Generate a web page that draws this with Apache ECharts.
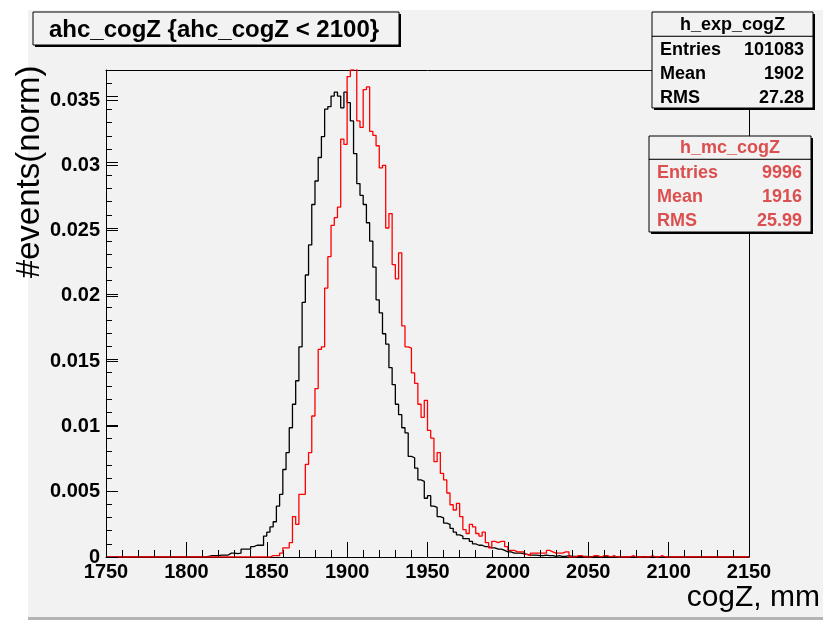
<!DOCTYPE html>
<html>
<head>
<meta charset="utf-8">
<script src="https://cdn.jsdelivr.net/npm/echarts@6/dist/echarts.min.js"></script>
<style>
html,body{margin:0;padding:0;background:#ffffff;}
#wrap{position:relative;width:823px;height:620px;overflow:hidden;}
#panel{position:absolute;left:28px;top:10px;width:795px;height:607px;background:#f2f2f2;border-bottom:3px solid #b4b4b4;}
#chart{position:absolute;left:0;top:0;width:823px;height:620px;}
#ticks{position:absolute;left:0;top:0;width:823px;height:620px;pointer-events:none;}
</style>
</head>
<body>
<div id="wrap"><div id="panel"></div><div id="chart"></div><div id="ticks"></div></div>
<script>
// ---- data ----
const binWidth = 2;           // mm
const axisMin = 1750;
const axisMax = 2150;
const yMax = 0.0373;
const xTickLabels = ['1750','1800','1850','1900','1950','2000','2050','2100','2150'];
const yTickLabels = ['0','0.005','0.01','0.015','0.02','0.025','0.03','0.035'];

// h_exp_cogZ (black), bins of 2 mm starting at 1812 mm
const expStart = 1812;
const expValues = [
  0.00005,0.0001,0.0001,0.0001,0.00015,0.00015,0.00015,0.0003,0.0003,0.00025,
  0.0003,0.0006,0.0006,0.0006,0.0008,0.0009,0.0009,0.0009,0.0016,0.0019,
  0.0023,0.0027,0.0039,0.0048,0.0067,0.0080,0.0099,0.0117,0.0135,0.0161,
  0.0195,0.0216,0.0239,0.0270,0.0288,0.0306,0.0322,0.0343,0.0345,0.0353,
  0.0356,0.0353,0.0344,0.0356,0.0348,0.0334,0.0309,0.0286,0.0277,0.0270,
  0.0256,0.0242,0.0222,0.0197,0.0187,0.0171,0.0163,0.0145,0.0132,0.0117,
  0.0109,0.0099,0.0095,0.0077,0.0076,0.0068,0.0059,0.0058,0.0045,0.0047,
  0.0039,0.0038,0.0031,0.0030,0.0026,0.0025,0.0022,0.0019,0.0017,0.0016,
  0.0014,0.0014,0.0012,0.0010,0.0009,0.0009,0.0008,0.0008,0.0007,0.0007,
  0.0006,0.0006,0.0005,0.0004,0.0004,0.0003,0.0003,0.0003,0.00025,0.0002,
  0.00015,0.00015,0.00015,0.0001,0.0001,0.00015,0.0001,0.0001,0.00005,0.0001,
  0.00005,0.00005,0.0001,0.00005,0.00005,0.00003,0.00003,0.00005,0.00002,0.00003,
  0.00002,0,0.00002,0,0.00002,0,0,0.00002,0,0,
  0,0,0,0.00002,0,0.00002,0.00002,0,0,0
];

// h_mc_cogZ (red), bins of 2 mm starting at 1852 mm
const mcStart = 1852;
const mcValues = [
  0.0001,0.0001,0.0001,0.0003,0.0007,0.0007,0.0011,0.0031,0.0025,0.0048,
  0.0048,0.0071,0.0080,0.0108,0.0129,0.0159,0.0161,0.0206,0.0230,0.0254,
  0.0260,0.0268,0.0320,0.0316,0.0368,0.0373,0.0380,0.0334,0.0329,0.0358,
  0.0360,0.0326,0.0323,0.0315,0.0298,0.0300,0.0252,0.0263,0.0224,0.0213,
  0.0233,0.0177,0.0161,0.0160,0.0141,0.0133,0.0117,0.0107,0.0120,0.0097,
  0.0091,0.0073,0.0080,0.0064,0.0059,0.0049,0.0040,0.0036,0.0041,0.0031,
  0.0021,0.0018,0.0025,0.0023,0.0018,0.0016,0.0019,0.0011,0.0007,0.0012,
  0.0011,0.0012,0.0012,0.0008,0.0005,0.0005,0.0004,0.0004,0.0004,0.0002,
  0.0001,0.0003,0.0003,0.0003,0.0003,0.0003,0.0005,0.0004,0.0003,0.0003,
  0.0003,0.0004,0.0004,0,0,0.0001,0.0001,0,0,0,
  0.0001,0.0001,0,0.0001,0.0001,0,0.0001,0,0,0,
  0,0,0.0001,0,0,0,0,0,0.0001,0,
  0,0.0001,0
];

const expStats = {name:'h_exp_cogZ', rows:[['Entries','101083'],['Mean','1902'],['RMS','27.28']]};
const mcStats  = {name:'h_mc_cogZ',  rows:[['Entries','9996'],['Mean','1916'],['RMS','25.99']]};
const titleText = 'ahc_cogZ {ahc_cogZ < 2100}';
const xTitle = 'cogZ, mm';
const yTitle = '#events(norm)';

// build full histograms over the axis range (empty bins are zero)
function buildHist(start, vals){
  const n = Math.round((axisMax - axisMin) / binWidth);
  const pts = [];
  for (let i = 0; i < n; i++){
    const x = axisMin + i * binWidth;
    const k = Math.round((x - start) / binWidth);
    const v = (k >= 0 && k < vals.length) ? vals[k] : 0;
    pts.push([x, v]);
  }
  pts.push([axisMax, pts[pts.length-1][1]]);
  return pts;
}

const FONT = 'Liberation Sans, Arial, Helvetica, sans-serif';
const mcColor = '#dc4f4f';
const GRID = {left:106, top:70, width:643, height:487};

function statsBox(x, y, w, h, headH, st, color){
  const els = [];
  els.push({type:'rect', shape:{x:x+2, y:y+2, width:w, height:h}, style:{fill:'#000'}, z:10});
  els.push({type:'rect', shape:{x:x, y:y, width:w, height:h}, style:{fill:'#f2f2f2', stroke:'#000', lineWidth:1}, z:11});
  els.push({type:'rect', shape:{x:x, y:y+headH, width:w, height:0.5}, style:{fill:'#000', stroke:'#000', lineWidth:0.5}, z:12});
  els.push({type:'text', x:x+w/2, y:y+headH/2+1, style:{text:st.name, fill:color, font:'bold 18px '+FONT, textAlign:'center', textVerticalAlign:'middle'}, z:12});
  st.rows.forEach((r, i) => {
    const ty = y + headH + 14 + i*24;
    els.push({type:'text', x:x+8, y:ty, style:{text:r[0], fill:color, font:'bold 18px '+FONT, textAlign:'left', textVerticalAlign:'middle'}, z:12});
    els.push({type:'text', x:x+w-9, y:ty, style:{text:r[1], fill:color, font:'bold 18px '+FONT, textAlign:'right', textVerticalAlign:'middle'}, z:12});
  });
  return els;
}

const graphics = [
  {type:'rect', shape:{x:35, y:14, width:366, height:33}, style:{fill:'#000'}, z:10},
  {type:'rect', shape:{x:33, y:12, width:366, height:33}, style:{fill:'#f2f2f2', stroke:'#000', lineWidth:1}, z:11},
  {type:'text', x:214, y:30, style:{text:titleText, fill:'#000', font:'bold 24px '+FONT, textAlign:'center', textVerticalAlign:'middle'}, z:12},
  {type:'text', x:30, y:172, rotation:Math.PI/2, style:{text:yTitle, fill:'#000', font:'33px '+FONT, textAlign:'center', textVerticalAlign:'middle'}, z:12},
  {type:'text', x:820, y:598, style:{text:xTitle, fill:'#000', font:'30px '+FONT, textAlign:'right', textVerticalAlign:'middle'}, z:12}
].concat(statsBox(652, 12, 161, 96, 24, expStats, '#000'))
 .concat(statsBox(649, 136, 162, 96, 23, mcStats, mcColor));

const noLabel = {show:false};
const noSplit = {show:false};

// ---- main chart: histograms, axis lines, labels, frame, boxes ----
const chart = echarts.init(document.getElementById('chart'));
chart.setOption({
  animation:false,
  grid:GRID,
  xAxis:[
    {
      type:'value', min:axisMin, max:axisMax, interval:50, position:'bottom',
      axisLine:{show:true, onZero:false, lineStyle:{color:'#000', width:1}},
      axisTick:{show:true, inside:true, length:15, lineStyle:{color:'#000'}},
      axisLabel:{show:true, color:'#000', fontFamily:FONT, fontWeight:'bold', fontSize:20, margin:5,
        formatter:(v)=> xTickLabels.indexOf(String(v)) >= 0 ? String(v) : ''},
      splitLine:noSplit
    },
    {
      type:'value', min:axisMin, max:axisMax, position:'top',
      axisLine:{show:true, onZero:false, lineStyle:{color:'#000', width:1}},
      axisTick:{show:false}, axisLabel:noLabel, splitLine:noSplit
    }
  ],
  yAxis:[
    {
      type:'value', min:0, max:yMax, interval:0.005, position:'left',
      axisLine:{show:true, onZero:false, lineStyle:{color:'#000', width:1}},
      axisTick:{show:true, inside:true, length:12, lineStyle:{color:'#000'}},
      axisLabel:{show:true, color:'#000', fontFamily:FONT, fontWeight:'bold', fontSize:20, margin:6, showMaxLabel:false,
        formatter:(v)=>{ const s = String(+v.toFixed(4)); return yTickLabels.indexOf(s) >= 0 ? s : ''; }},
      splitLine:noSplit
    },
    {
      type:'value', min:0, max:yMax, position:'right',
      axisLine:{show:true, onZero:false, lineStyle:{color:'#000', width:1}},
      axisTick:{show:false}, axisLabel:noLabel, splitLine:noSplit
    }
  ],
  series:[
    {type:'line', name:'h_exp_cogZ', step:'end', data:buildHist(expStart, expValues), symbol:'none', clip:true,
     xAxisIndex:0, yAxisIndex:0, lineStyle:{color:'#000', width:1.3}},
    {type:'line', name:'h_mc_cogZ', step:'end', data:buildHist(mcStart, mcValues), symbol:'none', clip:true,
     xAxisIndex:0, yAxisIndex:0, lineStyle:{color:'#ff0000', width:1.3}}
  ],
  graphic: graphics
});

// ---- overlay: inward ticks on the same scales ----
// grid 0: y ticks (major + minor); grids 1 and 2: thin strips along the x axis whose
// split lines act as the inward x major (15 px) and minor (7 px) ticks.
const ticks = echarts.init(document.getElementById('ticks'));
const hiddenY = (gi) => ({gridIndex:gi, type:'value', min:0, max:1, show:false});
ticks.setOption({
  animation:false,
  grid:[
    GRID,
    {left:GRID.left, top:GRID.top + GRID.height - 15, width:GRID.width, height:15},
    {left:GRID.left, top:GRID.top + GRID.height - 7, width:GRID.width, height:7}
  ],
  xAxis:[
    {gridIndex:0, type:'value', min:axisMin, max:axisMax, interval:50,
     axisLine:{show:false}, axisTick:{show:true, inside:true, length:15, lineStyle:{color:'#000'}},
     minorTick:{show:true, splitNumber:5, length:7, lineStyle:{color:'#000'}},
     axisLabel:noLabel, splitLine:noSplit},
    {gridIndex:1, type:'value', min:axisMin, max:axisMax, interval:50,
     axisLine:{show:false}, axisTick:{show:false}, axisLabel:noLabel,
     splitLine:{show:true, lineStyle:{color:'#000', width:1, type:'solid'}}},
    {gridIndex:2, type:'value', min:axisMin, max:axisMax, interval:10,
     axisLine:{show:false}, axisTick:{show:false}, axisLabel:noLabel,
     splitLine:{show:true, lineStyle:{color:'#000', width:1, type:'solid'}}}
  ],
  yAxis:[
    {gridIndex:0, type:'value', min:0, max:0.037, interval:0.005,
     axisLine:{show:false}, axisTick:{show:true, inside:true, length:12, lineStyle:{color:'#000'}},
     minorTick:{show:true, splitNumber:5, length:6, lineStyle:{color:'#000'}},
     axisLabel:noLabel, splitLine:noSplit},
    hiddenY(1), hiddenY(2)
  ],
  series:[
    {type:'line', data:[], symbol:'none', xAxisIndex:0, yAxisIndex:0},
    {type:'line', data:[], symbol:'none', xAxisIndex:1, yAxisIndex:1},
    {type:'line', data:[], symbol:'none', xAxisIndex:2, yAxisIndex:2}
  ]
});
</script>
</body>
</html>
